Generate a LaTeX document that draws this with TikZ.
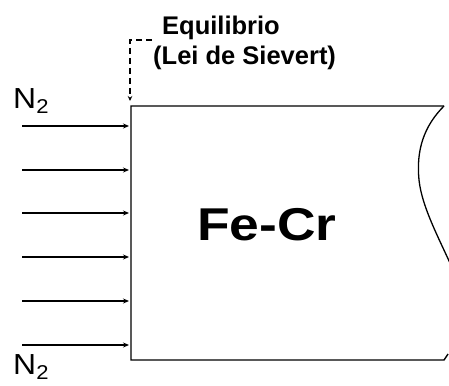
\documentclass[tikz,border=0pt]{standalone}
\usepackage{fontspec}
\setmainfont{Liberation Sans}
\usetikzlibrary{arrows.meta}
\begin{document}
\begin{tikzpicture}[x=1pt,y=-1pt,
  line/.style={line width=1.4pt,black},
  flow/.style={line width=1.2pt,-{Stealth[length=6pt,width=5pt]}},
  eqlab/.style={anchor=base west,inner sep=0pt,font=\bfseries\fontsize{25.5}{28}\selectfont},
  nlab/.style={anchor=base west,inner sep=0pt,xscale=1.1,transform shape,font=\fontsize{29}{32}\selectfont}]
\useasboundingbox (0,0) rectangle (449,385);
\clip (0,0) rectangle (449,385);
% block
\coordinate (tl) at (131,106);
\coordinate (tr) at (444,106);
\coordinate (bl) at (131,360);
\coordinate (br) at (444,360);
\draw[line] (tr) -- (tl) -- (bl) -- (br) -- (448,354);
\draw[line width=1.3pt] (tr) .. controls (424,126) and (416,150) .. (419,180)
  .. controls (422,208) and (440,240) .. (454,272);
% arrows
\foreach \i/\yy in {1/126,2/170,3/213,4/257,5/301,6/345}{
  \coordinate (s\i) at (22,\yy);
  \coordinate (e\i) at (129,\yy);
  \draw[flow] (s\i) -- (e\i);
}
% labels
\node[nlab] (n2top) at (13,108) {N\textsubscript{\fontsize{20}{22}\selectfont 2}};
\node[nlab] (n2bot) at (13,374) {N\textsubscript{\fontsize{20}{22}\selectfont 2}};
\node[eqlab] (eq) at (162,35) {Equilibrio};
\node[eqlab] (lei) at (153,65) {(Lei de Sievert)};
\node[anchor=base west,inner sep=0pt,xscale=1.16,transform shape,font=\bfseries\fontsize{46}{50}\selectfont] (fecr) at (197,240) {Fe-Cr};
% dashed pointer
\coordinate (d0) at (152,40);
\coordinate (d1) at (130,40);
\coordinate (d2) at (130,101);
\draw[line width=1.2pt,dash pattern=on 6pt off 4pt,-{Stealth[length=5pt,width=4.5pt]}] (d0) -- (d1) -- (d2);
\end{tikzpicture}
\end{document}
